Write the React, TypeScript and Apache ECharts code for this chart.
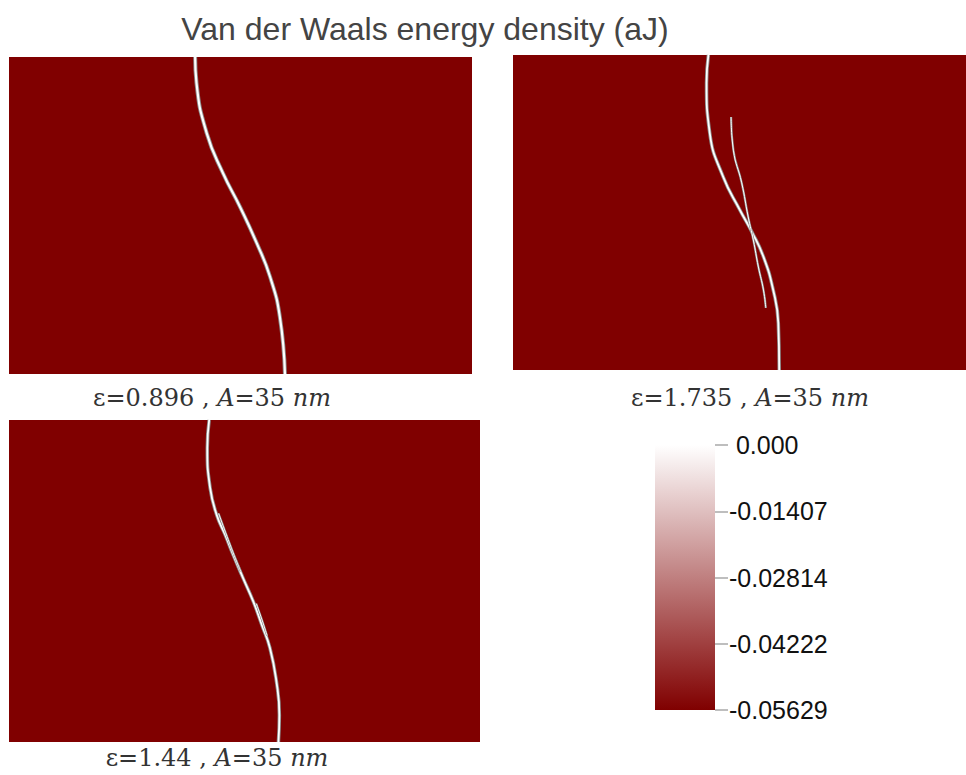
import React, { useEffect, useRef } from "react";
import * as echarts from "echarts";

// Panel curves: [x (% of domain width), y (% of domain height, from top)]
const panel1Curve: number[][] = [
  [40.2, 0], [40.5, 8.2], [42.7, 24.0], [46.2, 36.6], [49.9, 47.3],
  [53.5, 58.7], [56.4, 69.4], [58.5, 82.0], [59.6, 100],
];
const panel2Main: number[][] = [
  [42.2, 0], [41.8, 8.9], [42.5, 24.8], [45.4, 38.7], [49.0, 49.2],
  [51.6, 56.2], [54.1, 64.1], [56.2, 74.6], [57.3, 85.1], [57.5, 100],
];
const panel2Thin: number[][] = [
  [47.1, 19.7], [47.6, 30.2], [49.4, 40.6], [50.8, 51.4], [51.9, 58.7],
  [53.0, 67.3], [54.1, 74.6], [54.6, 80.3],
];
const panel3Main: number[][] = [
  [42.5, 0], [42.1, 8.7], [42.7, 21.1], [44.1, 29.5], [45.9, 35.7],
  [47.6, 41.9], [49.7, 49.1], [51.9, 56.5], [53.7, 63.7], [55.4, 70.8],
  [56.8, 81.4], [57.4, 91.6], [57.2, 100],
];
const panel3StrandA: number[][] = [
  [44.5, 29], [46.0, 35], [47.8, 42], [49.2, 47],
];
const panel3StrandB: number[][] = [
  [52.5, 57], [53.7, 62], [54.8, 67],
];

const captions = [
  "ε=0.896 , {i|A}=35{i| nm}",
  "ε=1.735 , {i|A}=35{i| nm}",
  "ε=1.44 , {i|A}=35{i| nm}",
];
const colorbarMin = -0.05629;
const colorbarMax = 0;
const colorbarLabels = ["-0.05629", "-0.04222", "-0.02814", "-0.01407", " 0.000"];
const titleText = "Van der Waals energy density (aJ)";
// right-hand panel is cut off by the page edge: visible part of its x range
const panel2VisibleMax = 97.84;

const PANEL_RED = "#800000";

export default function App() {
  const ref = useRef<HTMLDivElement>(null);
  useEffect(() => {
    document.body.style.margin = "0";
    document.documentElement.style.overflow = "hidden";
    if (!ref.current) return;
    const chart = echarts.init(ref.current, null, { renderer: "svg" });

    const grids: any[] = [
      { left: 9, top: 57, width: 463, height: 317 },
      { left: 513, top: 55, right: 0, height: 315 },
      { left: 9, top: 420, width: 471, height: 322 },
    ].map((g) => ({
      ...g,
      show: true,
      backgroundColor: PANEL_RED,
      borderWidth: 0,
      containLabel: false,
    }));
    grids.push({
      left: 655, top: 445, width: 60, height: 265,
      show: false, borderWidth: 0, containLabel: false,
    });

    const hiddenX = (i: number, max = 100) => ({
      type: "value", gridIndex: i, min: 0, max, show: false,
    });
    const hiddenY = (i: number) => ({
      type: "value", gridIndex: i, min: 0, max: 100, inverse: true, show: false,
    });

    const lineSeries = (
      data: number[][], idx: number, outerW: number, innerW: number
    ) => [
      {
        type: "line", xAxisIndex: idx, yAxisIndex: idx, data, smooth: true,
        symbol: "none", silent: true,
        lineStyle: { color: "#8a8a8a", width: outerW },
      },
      {
        type: "line", xAxisIndex: idx, yAxisIndex: idx, data, smooth: true,
        symbol: "none", silent: true,
        lineStyle: { color: "#ffffff", width: innerW },
      },
    ];

    const option: any = {
      animation: false,
      backgroundColor: "#ffffff",
      title: {
        text: titleText,
        left: 420,
        top: 8,
        textAlign: "center",
        textStyle: {
          fontFamily: "Liberation Sans",
          fontSize: 32,
          fontWeight: "normal",
          color: "#444444",
        },
      },
      grid: grids,
      xAxis: [hiddenX(0), hiddenX(1, panel2VisibleMax), hiddenX(2), {
        type: "value", gridIndex: 3, min: 0, max: 1, show: false,
      }],
      yAxis: [hiddenY(0), hiddenY(1), hiddenY(2), {
        type: "value", gridIndex: 3, position: "right",
        min: colorbarMin, max: colorbarMax, interval: (colorbarMax - colorbarMin) / 4,
        axisLine: { show: false, onZero: false },
        splitLine: { show: false },
        axisTick: { show: true, inside: false, length: 13, lineStyle: { color: "#a8a8a8", width: 1.5 } },
        axisLabel: {
          margin: 14,
          fontFamily: "Liberation Sans",
          fontSize: 25,
          color: "#111111",
          formatter: (_v: number, i: number) => colorbarLabels[i],
        },
      }],
      series: [
        ...lineSeries(panel1Curve, 0, 4, 2.2),
        ...lineSeries(panel2Main, 1, 3.5, 1.8),
        ...lineSeries(panel2Thin, 1, 2.2, 1),
        ...lineSeries(panel3Main, 2, 3.5, 1.8),
        ...lineSeries(panel3StrandA, 2, 2, 0.9),
        ...lineSeries(panel3StrandB, 2, 2, 0.9),
      ],
      graphic: [
        {
          type: "rect",
          shape: { x: 655, y: 445, width: 60, height: 265 },
          style: {
            fill: new echarts.graphic.LinearGradient(0, 0, 0, 1, [
              { offset: 0, color: "#ffffff" },
              { offset: 1, color: PANEL_RED },
            ]),
          },
          silent: true,
        },
        ...[
          [212, 398],
          [750, 398],
          [217, 758],
        ].map(([x, y], i) => ({
          type: "text",
          x,
          y,
          style: {
            text: captions[i],
            align: "center",
            verticalAlign: "middle",
            fontFamily: "DejaVu Serif",
            fontSize: 24,
            fill: "#333333",
            rich: {
              i: {
                fontFamily: "DejaVu Serif",
                fontStyle: "italic",
                fontSize: 24,
                fill: "#333333",
              },
            },
          },
          silent: true,
        })),
      ],
    };
    chart.setOption(option);
    return () => chart.dispose();
  }, []);
  return (
    <div
      ref={ref}
      style={{ width: 966, height: 775, overflow: "hidden", position: "relative" }}
    />
  );
}
